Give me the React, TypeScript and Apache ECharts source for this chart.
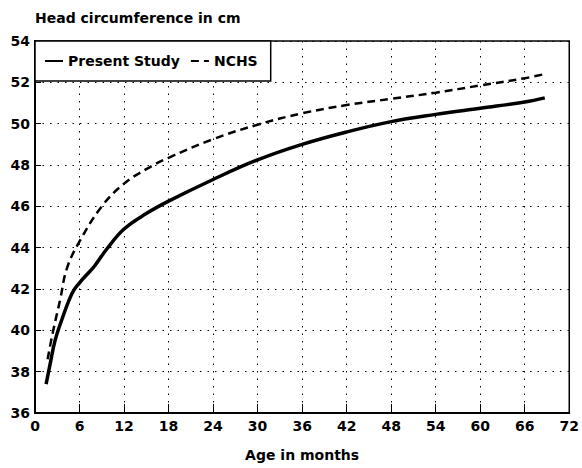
import React, { useEffect, useRef } from "react";
import * as echarts from "echarts";

const titleText = "Head circumference in cm";
const xAxisName = "Age in months";
const seriesNames = ["Present Study", "NCHS"];

const presentAge = [1.5, 2, 2.7, 3.6, 5, 6, 7, 8, 9.6, 12, 15, 18, 24, 30, 36, 42, 48, 54, 60, 66, 68.7];
const presentValue = [37.4, 38.3, 39.5, 40.5, 41.8, 42.3, 42.7, 43.1, 43.9, 44.9, 45.65, 46.25, 47.3, 48.25, 49.0, 49.6, 50.1, 50.45, 50.75, 51.05, 51.25];

const nchsAge = [1.7, 2.4, 3.4, 4.3, 6, 9, 12, 15, 18, 24, 30, 36, 42, 48, 54, 60, 66, 68.7];
const nchsValue = [38.6, 39.9, 41.5, 43.0, 44.3, 46.0, 47.1, 47.8, 48.35, 49.25, 49.95, 50.5, 50.9, 51.2, 51.5, 51.85, 52.2, 52.4];

const FONT = "'DejaVu Sans', 'Liberation Sans', Arial, sans-serif";

export default function App() {
  const ref = useRef<HTMLDivElement>(null);
  useEffect(() => {
    if (!ref.current) return;
    const chart = echarts.init(ref.current, undefined, { renderer: "svg" });
    const pair = (xs: number[], ys: number[]) => xs.map((x, i) => [x, ys[i]]);
    chart.setOption({
      animation: false,
      backgroundColor: "#fff",
      textStyle: { fontFamily: FONT },
      title: {
        text: titleText,
        left: 30,
        top: 6,
        textStyle: { fontFamily: FONT, fontWeight: "bold", fontSize: 14, color: "#000" },
      },
      legend: {
        left: 35,
        top: 41,
        orient: "horizontal",
        padding: [13, 13, 13, 9],
        itemGap: 10,
        itemWidth: 18,
        itemHeight: 14,
        borderColor: "#000",
        borderWidth: 1.5,
        borderRadius: 0,
        backgroundColor: "#fff",
        itemStyle: { opacity: 0 },
        textStyle: { fontFamily: FONT, fontWeight: "bold", fontSize: 14, color: "#000" },
        data: seriesNames,
        z: 10,
      },
      grid: {
        left: 35,
        right: 12,
        top: 41,
        bottom: 55,
        show: true,
        borderColor: "#000",
        borderWidth: 1.5,
        backgroundColor: "transparent",
      },
      xAxis: {
        type: "value",
        min: 0,
        max: 72,
        interval: 6,
        name: xAxisName,
        nameLocation: "middle",
        nameGap: 35,
        nameTextStyle: { fontFamily: FONT, fontWeight: "bold", fontSize: 14, color: "#000" },
        axisLine: { show: true, lineStyle: { color: "#000", width: 2 } },
        axisTick: { show: true, inside: true, length: 9, lineStyle: { color: "#000", width: 1 } },
        axisLabel: { fontFamily: FONT, fontWeight: "bold", fontSize: 14, color: "#000", margin: 6 },
        splitLine: { show: true, lineStyle: { color: "#000", width: 1, type: [1.5, 6] } },
      },
      yAxis: {
        type: "value",
        min: 36,
        max: 54,
        interval: 2,
        axisLine: { show: true, lineStyle: { color: "#000", width: 2 } },
        axisTick: { show: true, inside: true, length: 6, lineStyle: { color: "#000", width: 1 } },
        axisLabel: { fontFamily: FONT, fontWeight: "bold", fontSize: 14, color: "#000", margin: 5 },
        splitLine: { show: true, lineStyle: { color: "#000", width: 1, type: [1.5, 6] } },
      },
      series: [
        {
          name: seriesNames[0],
          type: "line",
          data: pair(presentAge, presentValue),
          smooth: 0.4,
          symbol: "none",
          lineStyle: { color: "#000", width: 3.5 },
          itemStyle: { color: "#000" },
        },
        {
          name: seriesNames[1],
          type: "line",
          data: pair(nchsAge, nchsValue),
          smooth: 0.4,
          symbol: "none",
          lineStyle: { color: "#000", width: 2.5, type: [8, 5] },
          itemStyle: { color: "#000" },
        },
      ],
    });
    return () => chart.dispose();
  }, []);
  return <div ref={ref} style={{ width: 582, height: 468, position: "absolute", left: 0, top: 0 }} />;
}
